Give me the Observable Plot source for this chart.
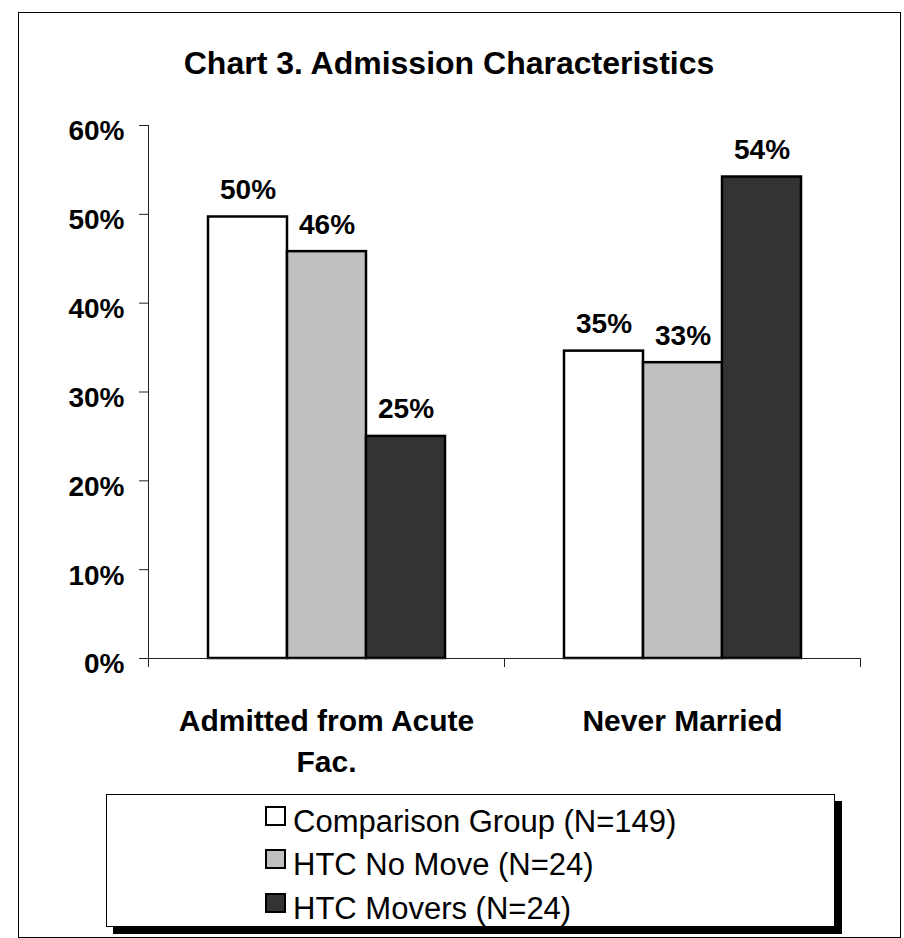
<!DOCTYPE html>
<html>
<head>
<meta charset="utf-8">
<script src="https://cdn.jsdelivr.net/npm/d3@7"></script>
<script src="https://cdn.jsdelivr.net/npm/@observablehq/plot@0.6"></script>
<style>
  html, body { margin: 0; padding: 0; background: #fff; }
  #wrap { position: relative; width: 904px; height: 938px; font-family: "Liberation Sans", Arial, sans-serif; }
  #frame { position: absolute; left: 18px; top: 12px; width: 883px; height: 926px; border: 1px solid #000; box-sizing: border-box; }
  #title { position: absolute; left: 0; top: 47px; width: 898px; text-align: center; font-weight: bold; font-size: 32px; line-height: 32px; color: #000; }
  #chart { position: absolute; left: 0; top: 0; }
  #legend { position: absolute; left: 106px; top: 794px; width: 729px; height: 133px; border: 1px solid #000; box-sizing: border-box; background: #fff; box-shadow: 7px 7px 0 #000; }
  .row { position: absolute; left: 158px; display: flex; align-items: flex-start; }
  .sw { width: 21px; height: 20px; border: 2px solid #000; box-sizing: border-box; margin-right: 7px; margin-top: 0; }
  .lt { font-size: 31px; line-height: 31px; color: #000; white-space: nowrap; }
</style>
</head>
<body>
<div id="wrap">
  <div id="frame"></div>
  <div id="chart"></div>
  <div id="title">Chart 3. Admission Characteristics</div>
  <div id="legend"></div>
</div>
<script>
// ---- data ----
const categories = ["Admitted from Acute Fac.", "Never Married"];
const categoryLabels = ["Admitted from Acute\nFac.", "Never Married"];
const series = ["Comparison Group (N=149)", "HTC No Move (N=24)", "HTC Movers (N=24)"];
const seriesColors = ["#ffffff", "#c0c0c0", "#333333"];
const comparisonGroup = [0.497, 0.346];
const htcNoMove = [0.458, 0.333];
const htcMovers = [0.25, 0.542];
const yTicks = [0, 0.1, 0.2, 0.3, 0.4, 0.5, 0.6];

const seriesValues = [comparisonGroup, htcNoMove, htcMovers];
const data = categories.flatMap((c, i) =>
  series.map((s, j) => ({category: c, series: s, value: seriesValues[j][i]}))
);

const W = 904, H = 938, mL = 148, mR = 44, mT = 125, mB = 280;
const bw = (W - mL - mR) / categories.length;
const pct = d3.format(".0%");
const axisStroke = "#222";

const chart = Plot.plot({
  width: W, height: H,
  marginLeft: mL, marginRight: mR, marginTop: mT, marginBottom: mB,
  style: {
    fontFamily: "'Liberation Sans', Arial, sans-serif",
    fontWeight: "bold",
    fontSize: "28px",
    background: "transparent",
    color: "#000",
    overflow: "visible"
  },
  fx: {domain: categories, padding: 0, axis: null, label: null},
  x: {domain: series, paddingInner: 0, paddingOuter: 0.733, axis: null, label: null},
  y: {domain: [0, 0.6], axis: null, label: null},
  color: {domain: series, range: seriesColors},
  marks: [
    Plot.barY(data, {fx: "category", x: "series", y: "value", fill: "series", stroke: "#000", strokeWidth: 2.5}),
    Plot.ruleY([0], {stroke: axisStroke, strokeWidth: 1}),
    Plot.ruleX([categories[0]], {fx: d => d, x: null, y1: 0, y2: 0.6, dx: -bw / 2, stroke: axisStroke, strokeWidth: 1}),
    Plot.axisFx({anchor: "bottom", tickSize: 9, tickFormat: () => "", dx: -bw / 2, stroke: axisStroke, label: null}),
    Plot.axisFx({anchor: "bottom", ticks: [categories[categories.length - 1]], tickSize: 9, tickFormat: () => "", dx: bw / 2, stroke: axisStroke, label: null}),
    Plot.axisFx({anchor: "bottom", tickSize: 0, tickPadding: 43, tickFormat: d => categoryLabels[categories.indexOf(d)], fontSize: 30, lineHeight: 1.367, label: null, fill: "#000"}),
    Plot.axisY({ticks: yTicks, tickSize: 9, tickFormat: () => "", stroke: axisStroke, label: null}),
    Plot.axisY({ticks: yTicks, tickSize: 0, tickPadding: 24, tickFormat: pct, dy: 6, fontSize: 28, label: null, fill: "#000"}),
    Plot.text(data, {fx: "category", x: "series", y: "value", text: d => pct(d.value), lineAnchor: "bottom", dy: -18, fontSize: 28, fill: "#000"})
  ]
});
document.getElementById("chart").appendChild(chart);

// ---- legend ----
const legend = document.getElementById("legend");
const rowTops = [11, 54, 98];
series.forEach((s, i) => {
  const row = document.createElement("div");
  row.className = "row";
  row.style.top = rowTops[i] + "px";
  const sw = document.createElement("div");
  sw.className = "sw";
  sw.style.background = seriesColors[i];
  const lt = document.createElement("span");
  lt.className = "lt";
  lt.textContent = s;
  row.appendChild(sw);
  row.appendChild(lt);
  legend.appendChild(row);
});
</script>
</body>
</html>
